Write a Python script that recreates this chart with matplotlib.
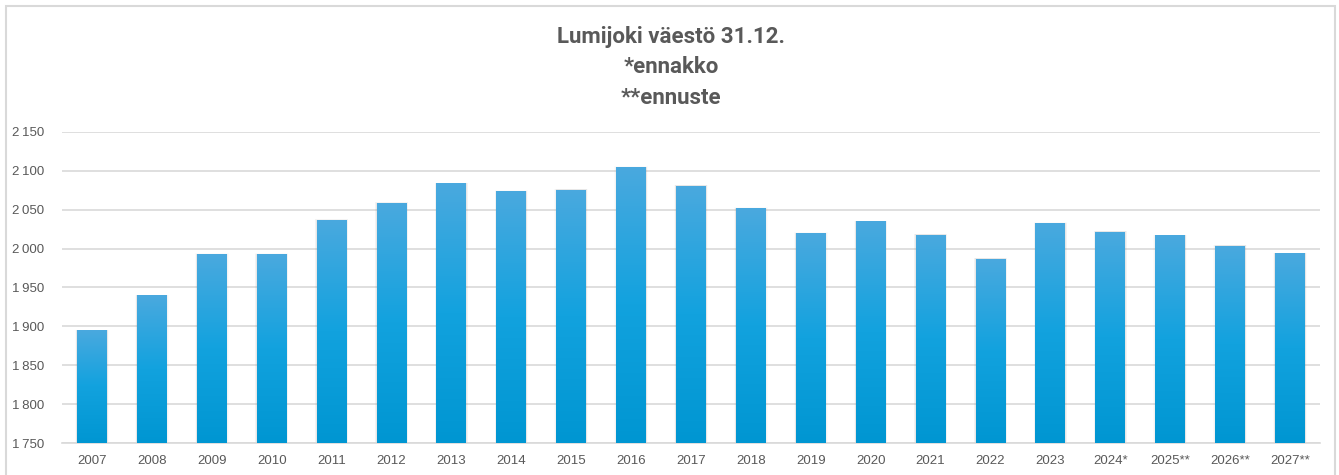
import matplotlib
matplotlib.use("Agg")
import matplotlib.pyplot as plt
import numpy as np
from matplotlib import font_manager
from matplotlib.colors import LinearSegmentedColormap
from matplotlib.patches import Rectangle

years = ["2007", "2008", "2009", "2010", "2011", "2012", "2013", "2014", "2015", "2016",
         "2017", "2018", "2019", "2020", "2021", "2022", "2023", "2024*", "2025**", "2026**", "2027**"]
population = [1895, 1940, 1993, 1993, 2037, 2059, 2084, 2074, 2076, 2105,
              2081, 2052, 2020, 2035, 2018, 1987, 2033, 2022, 2017, 2004, 1994]
title_lines = ["Lumijoki väestö 31.12.", "*ennakko", "**ennuste"]
y_ticks = [1750, 1800, 1850, 1900, 1950, 2000, 2050, 2100, 2150]

names = {f.name for f in font_manager.fontManager.ttflist}
narrow = "Liberation Sans Narrow" if "Liberation Sans Narrow" in names else "Liberation Sans"
title_font = "Roboto" if "Roboto" in names else "DejaVu Sans"
regular = "Liberation Sans" if "Liberation Sans" in names else "DejaVu Sans"

W, H = 1339, 475
fig = plt.figure(figsize=(W / 100, H / 100), dpi=100)
fig.patch.set_facecolor("white")

# outer frame
fig.add_artist(Rectangle((6 / W, -0.05), (1335 - 6) / W, (H - 6) / H + 0.05,
                         transform=fig.transFigure, fill=False, edgecolor="#D9D9D9", lw=1.5))

ax = fig.add_axes([62 / W, (H - 443) / H, (1320 - 62) / W, (443 - 132) / H])

cmap = LinearSegmentedColormap.from_list("g", ["#0096D2", "#12A2DE", "#4AA9DF"])
grad = np.linspace(0, 1, 256).reshape(-1, 1)
bw = 0.5
x = np.arange(len(years))
bars = ax.bar(x, np.array(population) - 1750, bottom=1750, width=bw, color="none", zorder=3)
for xi, val, b in zip(x, population, bars):
    # soft shadow
    for k, a in enumerate([0.10, 0.06, 0.03]):
        d = 0.01 * (k + 1)
        ax.add_patch(Rectangle((xi - bw / 2 - d, 1750), bw + 2 * d, val - 1750 + d * 30,
                               facecolor="#808080", alpha=a, edgecolor="none", zorder=2))
    im = ax.imshow(grad, extent=[xi - bw / 2, xi + bw / 2, 1750, val], origin="lower",
                   cmap=cmap, aspect="auto", zorder=3, interpolation="bilinear")
    im.set_clip_path(b)
ax.set_aspect("auto")
ax.set_xlim(-0.5, len(years) - 0.5)
ax.set_ylim(1750, 2150)

ax.set_yticks(y_ticks)
ax.set_yticklabels([f"{v:,}".replace(",", "\u2009") for v in y_ticks],
                   fontfamily=regular, fontsize=9.5, color="#595959")
ax.set_xticks(x)
ax.set_xticklabels(years, fontfamily=narrow, fontsize=9.5, color="#595959")
ax.tick_params(axis="y", length=0, pad=13)
ax.tick_params(axis="x", length=0, pad=9)
ax.grid(axis="y", color="#D9D9D9", lw=1.2, zorder=0)
ax.set_axisbelow(True)
for s in ["top", "right", "left"]:
    ax.spines[s].set_visible(False)
ax.spines["bottom"].set_color("#D9D9D9")
ax.spines["bottom"].set_linewidth(1.2)

ys = [37, 67, 98]
for t, yy in zip(title_lines, ys):
    fig.text(671 / W, 1 - yy / H, t, ha="center", va="center", fontsize=16,
             fontweight="bold", fontfamily=title_font, color="#595959")

fig.savefig("out.png", dpi=100, facecolor="white")
